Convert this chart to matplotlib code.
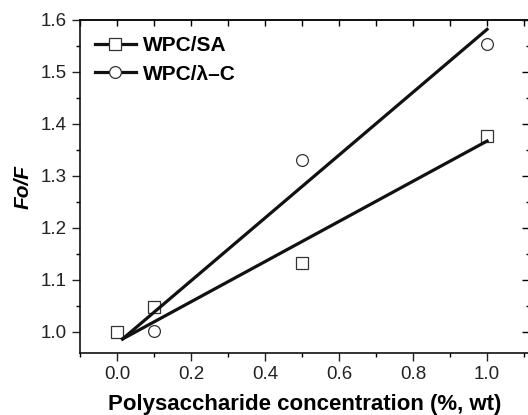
import matplotlib
matplotlib.use("Agg")
import matplotlib.pyplot as plt
from matplotlib.ticker import MultipleLocator

plt.rcParams['font.family'] = ['Liberation Sans', 'DejaVu Sans']

# data
conc = [0.0, 0.1, 0.5, 1.0]
sa_vals = [1.0, 1.048, 1.132, 1.376]
lc_vals = [1.0, 1.002, 1.330, 1.553]
# fitted lines (end points)
fit_x = [0.015, 1.0]
fit_sa = [0.986, 1.367]
fit_lc = [0.986, 1.582]
labels = ["WPC/SA", "WPC/\u03bb\u2013C"]

fig = plt.figure(figsize=(5.28, 4.15), dpi=100)
ax = fig.add_axes([80/528, 62/415, 449.6/528, 333/415])

ax.plot(conc, lc_vals, linestyle='none', marker='o', ms=8.5, mfc='white',
        mec='#333333', mew=0.9, zorder=2)
ax.plot(conc, sa_vals, linestyle='none', marker='s', ms=8, mfc='white',
        mec='#333333', mew=0.9, zorder=3)
ax.plot(fit_x, fit_sa, color='#111111', lw=2.3, zorder=4)
ax.plot(fit_x, fit_lc, color='#111111', lw=2.3, zorder=4)

# legend proxies
h1, = ax.plot([], [], color='#111111', lw=2.3, marker='s', ms=8, mfc='white', mec='#333333', mew=0.9)
h2, = ax.plot([], [], color='#111111', lw=2.3, marker='o', ms=8.5, mfc='white', mec='#333333', mew=0.9)
leg = ax.legend([h1, h2], labels, loc='upper left', frameon=False,
                prop={'weight': 'bold', 'size': 15}, handlelength=2.0,
                handletextpad=0.3, labelspacing=0.45,
                bbox_to_anchor=(0.0, 0.995), borderaxespad=0.3)

ax.set_xlim(-0.1, 1.115)
ax.set_ylim(0.959, 1.6)
ax.xaxis.set_major_locator(MultipleLocator(0.2))
ax.xaxis.set_minor_locator(MultipleLocator(0.1))
ax.yaxis.set_major_locator(MultipleLocator(0.1))
ax.yaxis.set_minor_locator(MultipleLocator(0.05))
ax.xaxis.set_major_formatter(matplotlib.ticker.FormatStrFormatter('%.1f'))
ax.yaxis.set_major_formatter(matplotlib.ticker.FormatStrFormatter('%.1f'))
ax.tick_params(which='major', direction='out', length=6, width=1.0, labelsize=13.5, colors='#222222')
ax.tick_params(which='minor', direction='out', length=3, width=1.0)

for s in ax.spines.values():
    s.set_linewidth(1.2)
    s.set_color('#111111')

top = ax.secondary_xaxis('top')
top.xaxis.set_major_locator(MultipleLocator(0.1))
top.tick_params(direction='in', length=4, width=1.0, labeltop=False)
top.spines['top'].set_linewidth(1.2)

right = ax.secondary_yaxis('right')
right.yaxis.set_major_locator(MultipleLocator(0.1))
right.yaxis.set_minor_locator(MultipleLocator(0.05))
right.tick_params(which='major', direction='in', length=6, width=1.0, labelright=False)
right.tick_params(which='minor', direction='in', length=3, width=1.0)

ax.set_xlabel('Polysaccharide concentration (%, wt)', fontsize=16, fontweight='bold', labelpad=8)
ax.set_ylabel('Fo/F', fontsize=15, fontweight='bold', style='italic', labelpad=6)

fig.savefig('out.png', dpi=100)
